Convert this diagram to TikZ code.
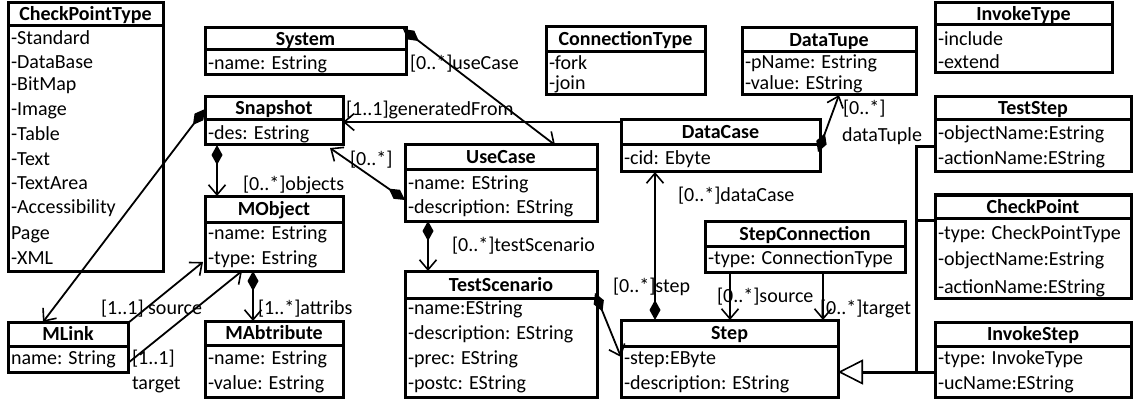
\documentclass[tikz,border=0pt]{standalone}
\usepackage{fontspec}
\setmainfont{Carlito}
\usetikzlibrary{arrows.meta,calc,fit}
\tikzset{
  every node/.style={font=\fontsize{20pt}{24pt}\selectfont, inner sep=0pt, outer sep=0pt},
  box/.style={draw, line width=3pt, inner sep=0pt, outer sep=0pt},
  divider/.style={line width=3pt},
  clsname/.style={font=\fontsize{20pt}{24pt}\selectfont\bfseries, text height=13pt, text depth=0pt},
  attr/.style={anchor=west, text height=13pt, text depth=0pt},
  lbl/.style={anchor=west, text height=13pt, text depth=0pt},
  assoc/.style={line width=1.8pt},
  thinassoc/.style={line width=1.3pt},
  gen/.style={line width=3pt},
  oarr/.tip={Straight Barb[length=10pt,width=17pt,line width=1.6pt]},
  comp/.tip={Diamond[length=20pt,width=11pt]},
  inh/.tip={Triangle[open,length=25pt,width=25pt,fill=white,line width=1.6pt]},
}
% class box: name, x1, y1, x2, y2, divider y, title
\newcommand\umlclass[7]{%
  \node[box, fit={(#2,#3) (#4,#5)}] (#1) {};
  \draw[divider] (#2,#6) -- (#4,#6);
  \node[clsname] (#1-name) at ({(#2+#4)/2},{(#3+#6)/2}) {#7};
}
\begin{document}
\begin{tikzpicture}[x=1pt,y=-1pt]
\useasboundingbox[fill=white] (0,0) rectangle (1133,401);

% ---- classes ----
\umlclass{cpt}{8}{3}{163}{271}{26}{CheckPointType}
\node[attr] (cpt-1) at (11,38) {-Standard};
\node[attr] (cpt-2) at (11,62) {-DataBase};
\node[attr] (cpt-3) at (11,84) {-BitMap};
\node[attr] (cpt-4) at (11,109) {-Image};
\node[attr] (cpt-5) at (11,134) {-Table};
\node[attr] (cpt-6) at (11,159) {-Text};
\node[attr] (cpt-7) at (11,183) {-TextArea};
\node[attr] (cpt-8) at (11,207) {-Accessibility};
\node[attr] (cpt-9) at (11,233) {Page};
\node[attr] (cpt-10) at (11,258) {-XML};

\umlclass{sys}{205}{28}{406}{75}{50}{System}
\node[attr] (sys-1) at (208,63) {-name: Estring};

\umlclass{snap}{205}{97}{343}{145}{120}{Snapshot}
\node[attr] (snap-1) at (208,133) {-des: Estring};

\umlclass{mobj}{205}{196}{343}{271}{222}{MObject}
\node[attr] (mobj-1) at (208,233) {-name: Estring};
\node[attr] (mobj-2) at (208,258) {-type: Estring};

\umlclass{mlink}{8}{322}{128}{372}{346}{MLink}
\node[attr] (mlink-1) at (11,358) {name: String};

\umlclass{mab}{205}{321}{343}{397}{345}{MAbtribute}
\node[attr] (mab-1) at (208,358) {-name: Estring};
\node[attr] (mab-2) at (208,383) {-value: Estring};

\umlclass{uc}{405}{145}{597}{221}{170}{UseCase}
\node[attr] (uc-1) at (408,183) {-name: EString};
\node[attr] (uc-2) at (408,207) {-description: EString};

\umlclass{ct}{546}{27}{705}{95}{52}{ConnectionType}
\node[attr] (ct-1) at (549,63) {-fork};
\node[attr] (ct-2) at (549,83) {-join};

\umlclass{dc}{621}{120}{820}{172}{145}{DataCase}
\node[attr] (dc-1) at (624,158) {-cid: Ebyte};

\umlclass{dt}{742}{28}{916}{95}{52}{DataTupe}
\node[attr] (dt-1) at (745,62) {-pName: Estring};
\node[attr] (dt-2) at (745,83) {-value: EString};

\umlclass{it}{935}{3}{1112}{73}{25}{InvokeType}
\node[attr] (it-1) at (938,39) {-include};
\node[attr] (it-2) at (938,62) {-extend};

\umlclass{tstep}{935}{97}{1131}{172}{120}{TestStep}
\node[attr] (tstep-1) at (938,133) {-objectName:Estring};
\node[attr] (tstep-2) at (938,158) {-actionName:EString};

\umlclass{cp}{935}{195}{1131}{298}{218}{CheckPoint}
\node[attr] (cp-1) at (938,233) {-type: CheckPointType};
\node[attr] (cp-2) at (938,259) {-objectName:Estring};
\node[attr] (cp-3) at (938,287) {-actionName:EString};

\umlclass{ist}{935}{322}{1131}{397}{346}{InvokeStep}
\node[attr] (ist-1) at (938,358) {-type: InvokeType};
\node[attr] (ist-2) at (938,383) {-ucName:EString};

\umlclass{sc}{705}{221}{905}{272}{246}{StepConnection}
\node[attr] (sc-1) at (708,258) {-type: ConnectionType};

\umlclass{step}{621}{320}{838}{397}{346}{Step}
\node[attr] (step-1) at (624,358) {-step:EByte};
\node[attr] (step-2) at (624,383) {-description: EString};

\umlclass{ts}{405}{271}{597}{397}{298}{TestScenario}
\node[attr] (ts-1) at (408,308) {-name:EString};
\node[attr] (ts-2) at (408,333) {-description: EString};
\node[attr] (ts-3) at (408,358) {-prec: EString};
\node[attr] (ts-4) at (408,383) {-postc: EString};

% ---- associations ----
\draw[assoc, {comp}-{oarr}] ($(sys.north east)+(-3,1)$) -- ($(uc.north west)+(150,0)$);
\draw[thinassoc, -{oarr}] ($(dc.north west)+(0,2)$) -- ($(snap.north east)+(0,25)$);
\draw[assoc, {comp}-{oarr}] ($(uc.north west)+(0,55)$) -- ($(snap.south east)+(-13,3)$);
\draw[assoc, {comp}-{oarr}] ($(snap.south west)+(12,0)$) -- ($(mobj.north west)+(12,0)$);
\draw[assoc, {comp}-{oarr}] ($(snap.north west)+(0,12)$) -- ($(mlink.north west)+(35,0)$);
\draw[assoc, -{oarr}] ($(mlink.north east)+(0,1)$) -- ($(mobj.south west)+(-2,-9)$);
\draw[assoc, -{oarr}] ($(mlink.south east)+(0,-9)$) -- ($(mobj.south west)+(37,0)$);
\draw[assoc, {comp}-{oarr}] ($(mobj.south west)+(48,0)$) -- ($(mab.north west)+(48,0)$);
\draw[assoc, {comp}-{oarr}] ($(uc.south west)+(23,0)$) -- ($(ts.north west)+(23,0)$);
\draw[assoc, {comp}-{oarr}] ($(ts.north east)+(-2,22)$) -- ($(step.north west)+(0,37)$);
\draw[assoc, {comp}-{oarr}] ($(step.north west)+(34,0)$) -- ($(dc.south west)+(34,0)$);
\draw[assoc, {comp}-{oarr}] ($(dc.north east)+(-2,32)$) -- ($(dt.south west)+(97,0)$);
\draw[assoc, -{oarr}] ($(sc.south west)+(25,0)$) -- ($(step.north west)+(109,0)$);
\draw[assoc, -{oarr}] ($(sc.south west)+(118,0)$) -- ($(step.north west)+(202,0)$);

% ---- generalization ----
\coordinate (bus) at ($(ist.south west)+(-19,-25)$);
\draw[gen] ($(tstep.south west)+(0,-25)$) -| (bus);
\draw[gen] ($(cp.north west)+(0,25)$) -- ($(cp.north west)+(-19,25)$);
\draw[gen, -{inh}] ($(ist.south west)+(0,-25)$) -- ($(step.south east)+(0,-25)$);

% ---- role labels ----
\node[lbl] (l-usecase) at (410,63) {[0..*]useCase};
\node[lbl] (l-gen) at (346,109) {[1..1]generatedFrom};
\node[lbl] (l-snapuc) at (350,159) {[0..*]};
\node[lbl] (l-objects) at (243,184) {[0..*]objects};
\node[lbl] (l-source1) at (101,308) {[1..1] source};
\node[lbl] (l-target1a) at (132,358) {[1..1]};
\node[lbl] (l-target1b) at (132,383) {target};
\node[lbl] (l-attribs) at (258,308) {[1..*]attribs};
\node[lbl] (l-testsc) at (452,245) {[0..*]testScenario};
\node[lbl] (l-step) at (613,286) {[0..*]step};
\node[lbl] (l-datacase) at (678,195) {[0..*]dataCase};
\node[lbl] (l-dt1) at (843,108) {[0..*]};
\node[lbl] (l-dt2) at (842,135) {dataTuple};
\node[lbl] (l-source2) at (717,296) {[0..*]source};
\node[lbl] (l-target2) at (820,308) {[0..*]target};
\end{tikzpicture}
\end{document}
